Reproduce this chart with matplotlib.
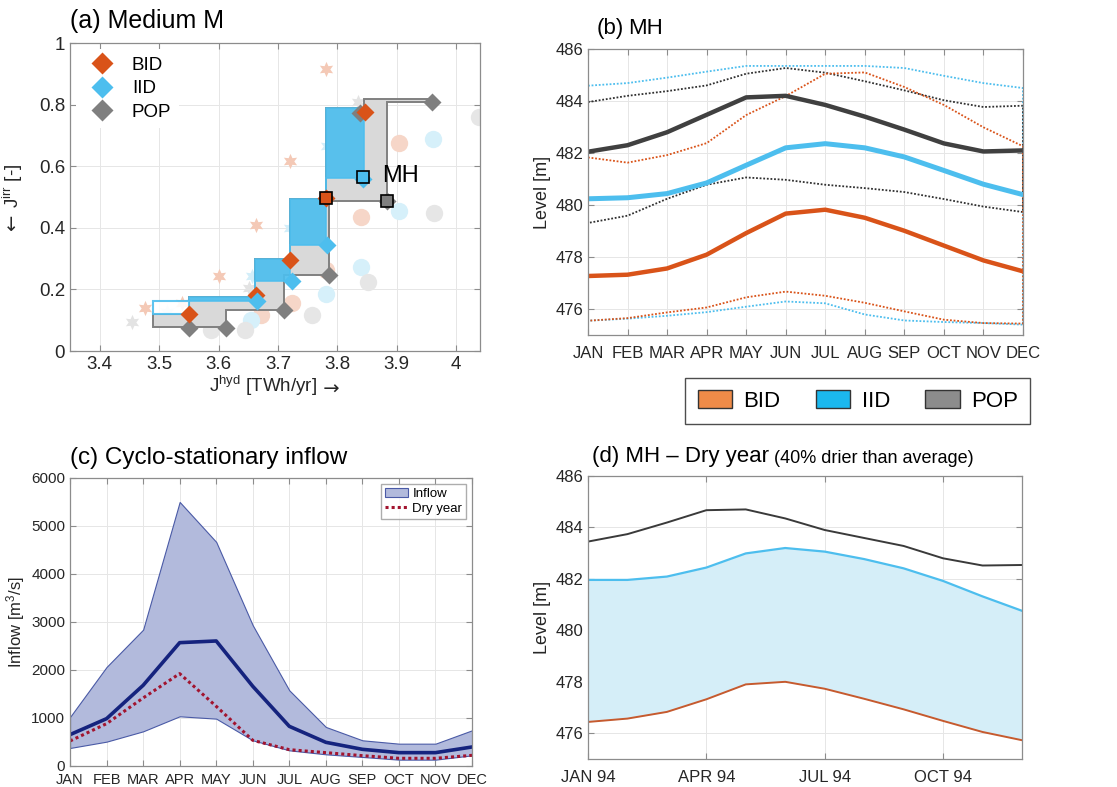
import numpy as np
import matplotlib

matplotlib.use("Agg")
import matplotlib.pyplot as plt
from matplotlib.lines import Line2D
from matplotlib.patches import Patch

plt.rcParams["font.family"] = ["Liberation Sans", "DejaVu Sans"]
plt.rcParams["mathtext.fontset"] = "custom"
plt.rcParams["mathtext.rm"] = "Liberation Sans"
plt.rcParams["mathtext.it"] = "Liberation Sans:italic"

# ---------------- data ----------------
MONTHS = ["JAN", "FEB", "MAR", "APR", "MAY", "JUN", "JUL", "AUG", "SEP", "OCT", "NOV", "DEC"]
DRY_TICK_MONTHS = [0, 3, 6, 9]
DRY_TICK_LABELS = ["JAN 94", "APR 94", "JUL 94", "OCT 94"]

# (a) Pareto fronts, medium M
bid_x = [3.551, 3.663, 3.721, 3.781, 3.846]
bid_y = [0.12, 0.183, 0.297, 0.496, 0.778]
iid_x = [3.664, 3.724, 3.783, 3.843]
iid_y = [0.163, 0.226, 0.346, 0.558]
pop_x = [3.55, 3.613, 3.71, 3.786, 3.838, 3.883, 3.959]
pop_y = [0.076, 0.076, 0.134, 0.247, 0.775, 0.487, 0.81]

mh_x = [3.78, 3.843, 3.883]
mh_y = [0.496, 0.565, 0.487]

# faded reference solutions (stars and circles)
bid_star_x = [3.476, 3.539, 3.6, 3.663, 3.72, 3.78]
bid_star_y = [0.14, 0.156, 0.245, 0.41, 0.617, 0.918]
iid_star_x = [3.513, 3.6, 3.657, 3.72, 3.783]
iid_star_y = [0.127, 0.145, 0.243, 0.4, 0.665]
pop_star_x = [3.454, 3.58, 3.652, 3.834]
pop_star_y = [0.094, 0.127, 0.205, 0.81]
bid_circ_x = [3.576, 3.672, 3.724, 3.781, 3.84, 3.904]
bid_circ_y = [0.107, 0.117, 0.156, 0.263, 0.437, 0.677]
iid_circ_x = [3.655, 3.781, 3.84, 3.904, 3.961]
iid_circ_y = [0.1, 0.186, 0.273, 0.455, 0.69]
pop_circ_x = [3.588, 3.644, 3.757, 3.852, 3.963, 4.039]
pop_circ_y = [0.068, 0.068, 0.117, 0.224, 0.448, 0.762]

# stair bands
iid_band_edges = [3.49, 3.55, 3.662, 3.72, 3.78, 3.845]
iid_band_lo = [0.12, 0.163, 0.226, 0.346, 0.563]
iid_band_hi = [0.163, 0.177, 0.30, 0.495, 0.789]
pop_lo_edges = [3.49, 3.613, 3.71, 3.786, 3.883, 3.959]
pop_lo = [0.079, 0.134, 0.247, 0.487, 0.81]
pop_hi_edges = [3.49, 3.55, 3.662, 3.72, 3.78, 3.845, 3.959]
pop_hi = [0.12, 0.177, 0.30, 0.495, 0.789, 0.82]

# (b) MH levels, cyclostationary
pop_mean = [482.05, 482.3, 482.8, 483.47, 484.14, 484.2, 483.85, 483.4, 482.9, 482.37, 482.06, 482.1]
iid_mean = [480.24, 480.28, 480.44, 480.85, 481.53, 482.2, 482.36, 482.2, 481.85, 481.33, 480.8, 480.4]
bid_mean = [477.27, 477.32, 477.56, 478.09, 478.92, 479.67, 479.82, 479.51, 479.01, 478.44, 477.87, 477.45]
iid_hi = [484.59, 484.69, 484.9, 485.13, 485.35, 485.35, 485.35, 485.35, 485.27, 484.97, 484.69, 484.5]
iid_lo = [475.55, 475.63, 475.74, 475.88, 476.09, 476.29, 476.22, 475.79, 475.56, 475.5, 475.46, 475.4]
pop_hi_b = [483.96, 484.2, 484.38, 484.6, 485.05, 485.27, 485.09, 484.76, 484.41, 484.03, 483.77, 483.82]
pop_lo_b = [479.31, 479.59, 480.24, 480.78, 481.06, 480.97, 480.78, 480.65, 480.5, 480.23, 479.94, 479.73]
bid_hi = [481.83, 481.63, 481.92, 482.38, 483.46, 484.19, 485.05, 485.1, 484.54, 483.85, 482.99, 482.26]
bid_lo = [475.55, 475.65, 475.87, 476.06, 476.45, 476.67, 476.51, 476.24, 475.91, 475.59, 475.46, 475.44]

# (c) inflow
inflow_hi = [1021, 2063, 2840, 5500, 4667, 2931, 1576, 813, 535, 465, 465, 743]
inflow_lo = [375, 507, 722, 1035, 986, 535, 326, 243, 188, 132, 132, 222]
inflow_mean = [653, 986, 1680, 2569, 2604, 1660, 826, 493, 347, 278, 278, 396]
inflow_dry = [521, 882, 1417, 1924, 1243, 535, 340, 278, 215, 160, 160, 222]

# (d) MH dry year
dry_pop = [483.45, 483.74, 484.19, 484.67, 484.7, 484.35, 483.9, 483.59, 483.28, 482.8, 482.52, 482.54]
dry_iid = [481.96, 481.96, 482.09, 482.44, 482.99, 483.2, 483.06, 482.77, 482.41, 481.92, 481.32, 480.76]
dry_bid = [476.44, 476.57, 476.83, 477.32, 477.9, 478.0, 477.73, 477.34, 476.93, 476.48, 476.05, 475.73]

# ---------------- styles ----------------
C_BID = "#D95319"
C_IID = "#4DBEEE"
C_POP = "#7f7f7f"
C_POP_DARK = "#404040"
EDGE = "#8c8c8c"
TXT = "#262626"


def matlab_axes(ax, fs):
    for spine in ax.spines.values():
        spine.set_color(EDGE)
        spine.set_linewidth(0.9)
    ax.tick_params(direction="in", top=True, right=True, length=4, width=0.8,
                   color=EDGE, labelcolor=TXT, labelsize=fs)
    ax.grid(True, color="#e6e6e6", linewidth=0.7)
    ax.set_axisbelow(True)


def stair_polygon(edges, lo, hi):
    xs, ys = [], []
    for i in range(len(lo)):
        xs += [edges[i], edges[i + 1]]
        ys += [lo[i], lo[i]]
    for i in reversed(range(len(hi))):
        xs += [edges[i + 1], edges[i]]
        ys += [hi[i], hi[i]]
    return xs, ys


def step_at(edges, vals, x):
    idx = np.searchsorted(edges, x, side="right") - 1
    idx = np.clip(idx, 0, len(vals) - 1)
    return np.asarray(vals)[idx]


fig = plt.figure(figsize=(11.17, 7.87), dpi=100)
ax_a = fig.add_axes([0.0627, 0.554, 0.367, 0.391])
ax_b = fig.add_axes([0.5264, 0.5743, 0.3894, 0.3634])
ax_c = fig.add_axes([0.0627, 0.0267, 0.3599, 0.366])
ax_d = fig.add_axes([0.5264, 0.0356, 0.3885, 0.3596])

# ---------------- (a) ----------------
matlab_axes(ax_a, 13.5)
ax_a.plot(bid_star_x, bid_star_y, ls="none", marker=(6, 1, 0), ms=11, color="#f4c9b6", mec="none")
ax_a.plot(iid_star_x, iid_star_y, ls="none", marker=(6, 1, 0), ms=11, color="#d3eef9", mec="none")
ax_a.plot(pop_star_x, pop_star_y, ls="none", marker=(6, 1, 0), ms=11, color="#e3e3e3", mec="none")
ax_a.plot(bid_circ_x, bid_circ_y, ls="none", marker="o", ms=12.5, color="#f6d6c8", mec="none")
ax_a.plot(iid_circ_x, iid_circ_y, ls="none", marker="o", ms=12.5, color="#d6f0fa", mec="none")
ax_a.plot(pop_circ_x, pop_circ_y, ls="none", marker="o", ms=12.5, color="#e6e6e6", mec="none")

edges_all = np.array(sorted(set(pop_lo_edges) | set(pop_hi_edges)))
mids = 0.5 * (edges_all[:-1] + edges_all[1:])
gx, gy = stair_polygon(edges_all, step_at(pop_lo_edges, pop_lo, mids), step_at(pop_hi_edges, pop_hi, mids))
ax_a.fill(gx, gy, facecolor="#d9d9d9", edgecolor="#808080", linewidth=1.4, zorder=2)

bx, by = stair_polygon(iid_band_edges[1:], iid_band_lo[1:], iid_band_hi[1:])
ax_a.fill(bx, by, facecolor=C_IID, edgecolor=C_IID, alpha=0.92, linewidth=1.2, zorder=3)
fx, fy = stair_polygon(iid_band_edges[:2], iid_band_lo[:1], iid_band_hi[:1])
ax_a.fill(fx, fy, facecolor="white", edgecolor=C_IID, alpha=0.9, linewidth=1.5, zorder=3)

ax_a.plot(pop_x, pop_y, ls="none", marker="D", ms=9.5, color=C_POP, mec="none", zorder=4)
ax_a.plot(bid_x, bid_y, ls="none", marker="D", ms=9.5, color=C_BID, mec="none", zorder=4)
ax_a.plot(iid_x, iid_y, ls="none", marker="D", ms=9.5, color=C_IID, mec="none", zorder=4)
for x, y, fc in zip(mh_x, mh_y, [C_BID, C_IID, C_POP]):
    ax_a.plot(x, y, ls="none", marker="s", ms=8.5, mfc=fc, mec="black", mew=1.2, zorder=5)
ax_a.text(3.875, 0.57, "MH", fontsize=17, color="black", va="center", ha="left", zorder=6)

ax_a.set_xlim(3.35, 4.04)
ax_a.set_ylim(0, 1)
ax_a.set_xticks([3.4, 3.5, 3.6, 3.7, 3.8, 3.9, 4.0])
ax_a.set_xticklabels(["3.4", "3.5", "3.6", "3.7", "3.8", "3.9", "4"])
ax_a.set_yticks([0, 0.2, 0.4, 0.6, 0.8, 1.0])
ax_a.set_yticklabels(["0", "0.2", "0.4", "0.6", "0.8", "1"])
ax_a.set_xlabel(r"J$^{\rm hyd}$ [TWh/yr]", fontsize=13.5, color=TXT, labelpad=4)
ax_a.xaxis.set_label_coords(0.47, -0.075)
ax_a.set_ylabel(r"J$^{\rm irr}$ [-]", fontsize=13.5, color=TXT)
ax_a.yaxis.set_label_coords(-0.11, 0.535)
ax_a.annotate(" →", xy=(1, 0), xycoords=ax_a.xaxis.label, fontsize=14, family="DejaVu Sans",
              color=TXT, va="bottom", ha="left")
ax_a.annotate("← ", xy=(0.5, 0), xycoords=ax_a.yaxis.label, fontsize=14, family="DejaVu Sans",
              color=TXT, va="top", ha="center", rotation=90)
leg_a = ax_a.legend(
    handles=[Line2D([], [], ls="none", marker="D", ms=11, color=c, mec="none") for c in (C_BID, C_IID, C_POP)],
    labels=["BID", "IID", "POP"], loc="upper left", fontsize=13.5, frameon=True,
    fancybox=False, handletextpad=0.6, labelspacing=0.35, borderaxespad=0.3,
)
leg_a.get_frame().set_edgecolor("none")
leg_a.get_frame().set_facecolor("white")
leg_a.get_frame().set_alpha(1.0)
ax_a.text(0.0, 1.035, "(a) Medium M", transform=ax_a.transAxes, fontsize=18, va="bottom", ha="left")

# ---------------- (b) ----------------
matlab_axes(ax_b, 12)
mx = np.arange(len(MONTHS))
for hi, lo, c in ((iid_hi, iid_lo, C_IID), (pop_hi_b, pop_lo_b, "#303030"), (bid_hi, bid_lo, C_BID)):
    ax_b.fill(np.r_[mx, mx[::-1]], np.r_[hi, lo[::-1]], facecolor="none", edgecolor=c,
              linestyle=(0, (1, 1)), linewidth=1.3)
ax_b.plot(mx, bid_mean, color=C_BID, lw=3.2)
ax_b.plot(mx, iid_mean, color=C_IID, lw=3.6)
ax_b.plot(mx, pop_mean, color=C_POP_DARK, lw=3.2)
ax_b.set_xlim(0, 11)
ax_b.set_ylim(475, 486)
ax_b.set_xticks(mx)
ax_b.set_xticklabels(MONTHS)
ax_b.set_yticks([476, 478, 480, 482, 484, 486])
ax_b.tick_params(axis="x", pad=8)
ax_b.set_ylabel("Level [m]", fontsize=13, color=TXT, labelpad=3)
ax_b.text(0.02, 1.035, "(b)", transform=ax_b.transAxes, fontsize=16, va="bottom", ha="left")
ax_b.text(0.092, 1.035, "MH", transform=ax_b.transAxes, fontsize=16, va="bottom", ha="left")

# shared legend
fig.legend(
    handles=[Patch(facecolor="#EF8B48", edgecolor="#333333", linewidth=1.0),
             Patch(facecolor="#1BB8EE", edgecolor="#333333", linewidth=1.0),
             Patch(facecolor="#8c8c8c", edgecolor="#333333", linewidth=1.0)],
    labels=["BID", "IID", "POP"], loc="center", bbox_to_anchor=(0.768, 0.4905), ncol=3,
    fontsize=16, frameon=True, fancybox=False, edgecolor="#222222", handlelength=1.55,
    handleheight=0.85, columnspacing=1.6, handletextpad=0.5, borderpad=0.55, borderaxespad=0,
)

# ---------------- (c) ----------------
matlab_axes(ax_c, 11)
ax_c.fill_between(mx, inflow_lo, inflow_hi, facecolor="#b2badc", edgecolor="#4a5aa6", linewidth=0.8)
ax_c.plot(mx, inflow_mean, color="#15237e", lw=2.6)
ax_c.plot(mx, inflow_dry, color="#a2142f", lw=2.2, ls=(0, (1, 1)))
ax_c.set_xlim(0, 11)
ax_c.set_ylim(0, 6000)
ax_c.set_xticks(mx)
ax_c.set_xticklabels(MONTHS, fontsize=10.5)
ax_c.set_yticks([0, 1000, 2000, 3000, 4000, 5000, 6000])
ax_c.tick_params(axis="x", pad=5)
ax_c.set_ylabel("Inflow [m$^3$/s]", fontsize=12, color=TXT, labelpad=3)
leg_c = ax_c.legend(
    handles=[Patch(facecolor="#b2badc", edgecolor="#4a5aa6", linewidth=0.8),
             Line2D([], [], color="#a2142f", lw=2.2, ls=(0, (1, 1)))],
    labels=["Inflow", "Dry year"], loc="upper right", fontsize=9.5, fancybox=False,
    edgecolor="#999999", handlelength=1.8, handletextpad=0.3, borderpad=0.3, labelspacing=0.2,
    borderaxespad=0.45,
)
ax_c.text(0.0, 1.03, "(c) Cyclo-stationary inflow", transform=ax_c.transAxes, fontsize=17.5,
          va="bottom", ha="left")

# ---------------- (d) ----------------
matlab_axes(ax_d, 12)
ax_d.fill_between(mx, dry_bid, dry_iid, color="#d5eef8", linewidth=0)
ax_d.plot(mx, dry_pop, color="#3a3a3a", lw=1.4)
ax_d.plot(mx, dry_iid, color=C_IID, lw=1.6)
ax_d.plot(mx, dry_bid, color="#c65a2e", lw=1.4)
ax_d.set_xlim(0, 11)
ax_d.set_ylim(475, 486)
ax_d.set_xticks(DRY_TICK_MONTHS)
ax_d.set_xticklabels(DRY_TICK_LABELS)
ax_d.set_yticks([476, 478, 480, 482, 484, 486])
ax_d.tick_params(axis="x", pad=8)
ax_d.set_ylabel("Level [m]", fontsize=13, color=TXT, labelpad=3)
t_d = ax_d.text(0.01, 1.03, "(d) MH – Dry year", transform=ax_d.transAxes, fontsize=16,
                va="bottom", ha="left")
ax_d.annotate(" (40% drier than average)", xy=(1, 0), xycoords=t_d, fontsize=13,
              va="bottom", ha="left")

fig.savefig("out.png", dpi=100)
